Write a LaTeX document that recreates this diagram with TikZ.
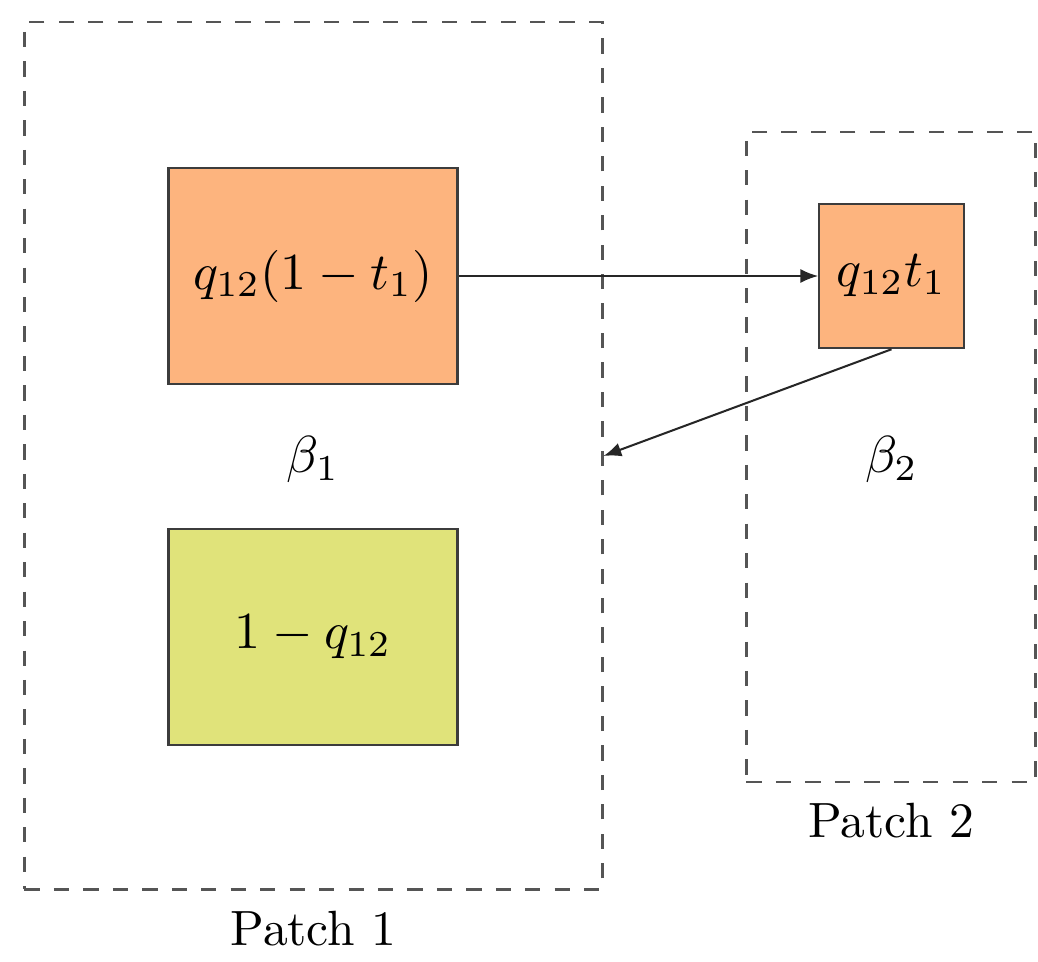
\documentclass[tikz,border=0pt]{standalone}
\usepackage{graphicx}
\usetikzlibrary{arrows.meta}
\definecolor{boxorange}{RGB}{253,180,126}
\definecolor{boxyellow}{RGB}{224,227,122}
\definecolor{edgegray}{RGB}{60,60,60}
\definecolor{dashgray}{RGB}{85,85,85}
% text is set at 10pt and enlarged, keeping the 10pt letter shapes
\newcommand{\enlargedmath}[1]{\scalebox{2.05}{$#1$}}
\newcommand{\enlargedtext}[1]{\scalebox{1.95}{#1}}
\begin{document}
\begin{tikzpicture}[
  patchbox/.style={draw=dashgray, line width=0.8pt, dash pattern=on 6pt off 5.6pt, minimum width=#1},
  cellbox/.style={draw=edgegray, line width=0.8pt, inner sep=0pt},
  flow/.style={draw=black!85, line width=0.8pt, -{Latex[length=7pt,width=5.5pt]}}
]
\useasboundingbox (0,0) rectangle (14.367,-13.301);

% patches
\node[patchbox=8cm, minimum height=12cm] (p1) at (4.339,-6.311) {};
\node[patchbox=4cm, minimum height=9cm] (p2) at (12.332,-6.325) {};

% compartments
\node[cellbox, fill=boxorange, minimum width=4cm, minimum height=3cm] (a) at (4.332,-3.82) {\enlargedmath{q_{12}(1-t_1)}};
\node[cellbox, fill=boxyellow, minimum width=4cm, minimum height=3cm] (c) at (4.332,-8.817) {\enlargedmath{1-q_{12}}};
\node[cellbox, fill=boxorange, minimum width=2cm, minimum height=2cm] (b) at (12.339,-3.82) {\enlargedmath{q_{12}t_1}};

% rates
\node (b1) at (4.332,-6.36) {\enlargedmath{\beta_1}};
\node (b2) at (12.339,-6.36) {\enlargedmath{\beta_2}};

% patch names
\node (l1) at (4.339,-12.85) {\enlargedtext{Patch 1}};
\node (l2) at (12.332,-11.36) {\enlargedtext{Patch 2}};

% movement between patches
\draw[flow] (a.east) -- (b.west);
\draw[flow] (b.south) -- (p1.east);
\end{tikzpicture}
\end{document}
